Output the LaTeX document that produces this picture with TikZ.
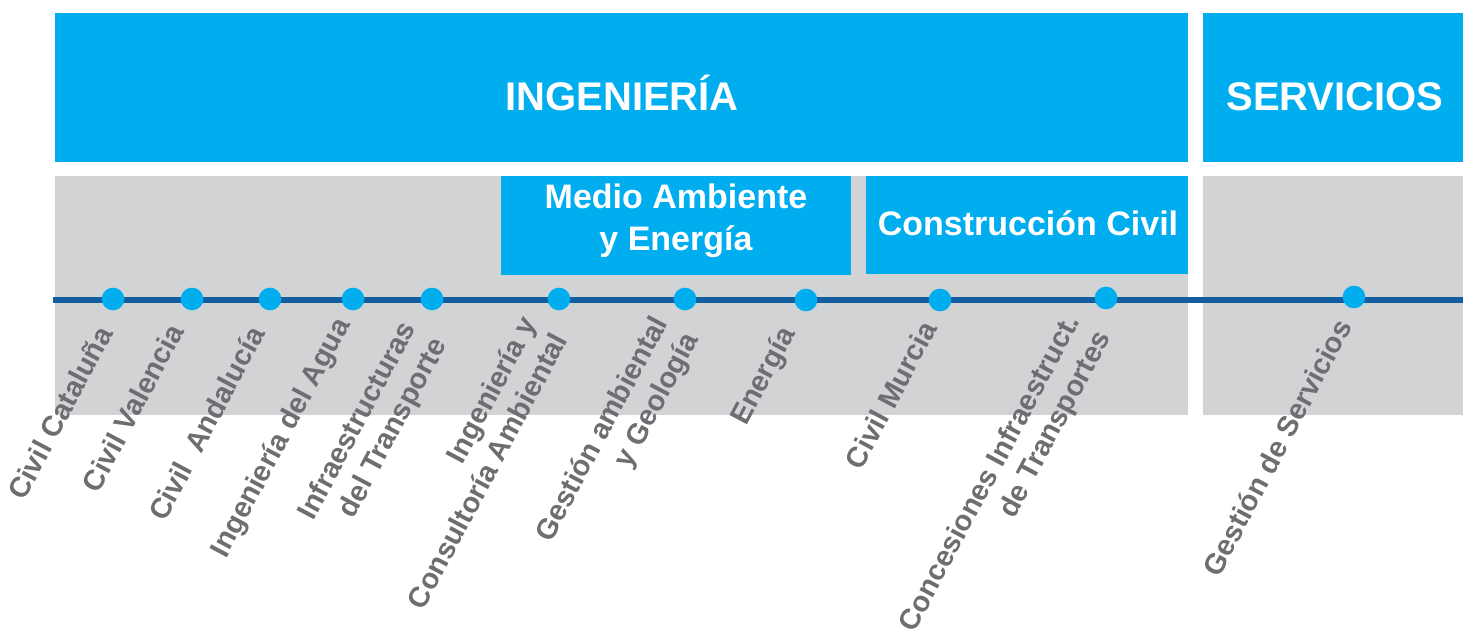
\documentclass[tikz,border=0pt]{standalone}
\usepackage{fontspec}
\setmainfont{Liberation Sans}

\tikzset{every picture/.style={line width=0.75pt}}
\tikzset{
  cajaazul/.style={fill={rgb, 255:red, 0; green, 174; blue, 239 }},
  franjagris/.style={fill={rgb, 255:red, 209; green, 211; blue, 212 }},
  linea/.style={draw={rgb, 255:red, 18; green, 94; blue, 160 }, line width=4.5pt},
  punto/.style={circle, fill={rgb, 255:red, 0; green, 174; blue, 239 }, inner sep=0pt, minimum size=17pt},
  titulo/.style={anchor=base, inner sep=0pt, text=white, font=\fontsize{30}{36}\selectfont\bfseries},
  subtitulo/.style={inner sep=0pt, text=white, align=center, font=\fontsize{25.5}{31.5}\selectfont\bfseries},
  lbl/.style={rotate=62, inner sep=0pt, align=right, text={rgb, 255:red, 109; green, 110; blue, 113 }, font=\fontsize{21.6}{26}\selectfont\bfseries}
}

\begin{document}
\begin{tikzpicture}[x=0.75pt,y=0.75pt,yscale=-1,xscale=1]
        \useasboundingbox (0,0) rectangle (1463,635);
        %Shape: Rectangle
        \fill [cajaazul] (55,13) rectangle (1188,162) ;
        %Shape: Rectangle
        \fill [cajaazul] (1203,13) rectangle (1463,162) ;
        %Shape: Rectangle
        \fill [franjagris] (55,176) rectangle (1188,415) ;
        %Shape: Rectangle
        \fill [franjagris] (1203,176) rectangle (1463,415) ;
        %Shape: Rectangle
        \fill [cajaazul] (501,176) rectangle (851,275) ;
        %Shape: Rectangle
        \fill [cajaazul] (866,176) rectangle (1188,274) ;

        % Text Node
        \node [titulo] (ing) at (622,110) {INGENIERÍA};
        % Text Node
        \node [titulo] (serv) at (1335,110) {SERVICIOS};
        % Text Node
        \node [subtitulo] (medio) at (676,221) {Medio Ambiente\\y Energía};
        % Text Node
        \node [subtitulo, anchor=base] (constr) at (1028,235) {Construcción Civil};

        %Straight Lines
        \coordinate (ini) at (53,300);
        \coordinate (fin) at (1463,300);
        \draw [linea] (ini) -- (fin) ;

        %Shape: Circle
        \node [punto] (p1) at (113,299) {};
        \node [punto] (p2) at (192,299) {};
        \node [punto] (p3) at (270,299) {};
        \node [punto] (p4) at (353,299) {};
        \node [punto] (p5) at (432,299) {};
        \node [punto] (p6) at (559,299) {};
        \node [punto] (p7) at (685,299) {};
        \node [punto] (p8) at (806,300) {};
        \node [punto] (p9) at (940,300) {};
        \node [punto] (p10) at (1106,298) {};
        \node [punto] (p11) at (1354,297) {};

        % Text Node
        \node [lbl, anchor=base east] (e1) at (114,333) {Civil Cataluña};
        % Text Node
        \node [lbl, anchor=base east] (e2) at (185,331) {Civil Valencia};
        % Text Node
        \node [lbl, anchor=base east] (e3) at (266,333) {Civil\ \ Andalucía};
        % Text Node
        \node [lbl, anchor=base east] (e4) at (351,324) {Ingeniería del Agua};
        % Text Node
        \node [lbl, anchor=south east] (e5) at (453,347) {Infraestructuras\\del Transporte};
        % Text Node
        \node [lbl, anchor=south east] (e6) at (569,340) {Ingeniería y\\Consultoría Ambiental};
        % Text Node
        \node [lbl, anchor=south east] (e7) at (705,342) {Gestión ambiental\\y Geología};
        % Text Node
        \node [lbl, anchor=base east] (e8) at (796,333) {Energía};
        % Text Node
        \node [lbl, anchor=base east] (e9) at (938,328) {Civil Murcia};
        % Text Node
        \node [lbl, anchor=south east] (e10) at (1117,340) {Concesiones Infraestruct.\\de Transportes};
        % Text Node
        \node [lbl, anchor=base east] (e11) at (1353,326) {Gestión de Servicios};
\end{tikzpicture}
\end{document}
